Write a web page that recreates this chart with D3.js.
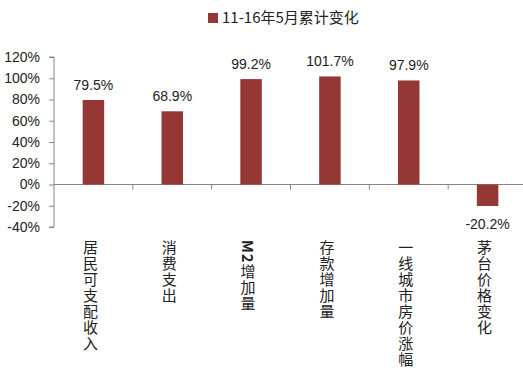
<!DOCTYPE html>
<html><head><meta charset="utf-8">
<script src="https://cdn.jsdelivr.net/npm/d3@7"></script>
<style>
body{margin:0;background:#fff;}
text{font-family:"Noto Sans CJK SC","Liberation Sans",sans-serif;}
</style></head><body>
<svg id="c" width="523" height="373"></svg>
<script>
const categories = ["居民可支配收入","消费支出","M2增加量","存款增加量","一线城市房价涨幅","茅台价格变化"];
const values = [79.5, 68.9, 99.2, 101.7, 97.9, -20.2];
const yTicks = [-40,-20,0,20,40,60,80,100,120];
const seriesName = "11-16年5月累计变化";

const svg = d3.select("#c");
const color = "#953735";
const x = d3.scaleBand().domain(categories).range([54, 527]);
const y = d3.scaleLinear().domain([-40,120]).range([227,57]);

// y axis
const yAxis = svg.append("g").attr("transform","translate(54,0)")
  .call(d3.axisLeft(y).tickValues(yTicks).tickSize(5).tickFormat(d=>d+"%"));
yAxis.select(".domain").attr("stroke","#868686").attr("d","M-5,"+y(120)+"H0V"+y(-40)+"H-5");
yAxis.selectAll(".tick line").attr("stroke","#868686");
yAxis.selectAll(".tick text").attr("font-size",14).attr("fill","#222").attr("x",-14)
  .style("font-family","'Liberation Sans',sans-serif");

// x axis at zero
const xg = svg.append("g");
xg.append("line").attr("x1",54).attr("x2",523).attr("y1",y(0)).attr("y2",y(0)).attr("stroke","#868686");
xg.selectAll("line.t").data(categories.slice(1)).enter().append("line")
  .attr("x1",d=>x(d)).attr("x2",d=>x(d)).attr("y1",y(0)).attr("y2",y(0)+5).attr("stroke","#868686");

// bars
const bw = 21.5;
svg.selectAll("rect.bar").data(values).enter().append("rect")
  .attr("x",(d,i)=>x(categories[i])+x.bandwidth()/2-bw/2)
  .attr("width",bw)
  .attr("y",d=>y(Math.max(0,d)))
  .attr("height",d=>Math.abs(y(d)-y(0)))
  .attr("fill",color);

// data labels
svg.selectAll("text.lab").data(values).enter().append("text")
  .attr("x",(d,i)=>x(categories[i])+x.bandwidth()/2)
  .attr("y",d=>d>=0? y(d)-10 : y(d)+23)
  .attr("text-anchor","middle").attr("font-size",14).attr("fill","#222")
  .style("font-family","'Liberation Sans',sans-serif")
  .text(d=>d.toFixed(1)+"%");

// category labels (vertical)
const cats = svg.selectAll("text.cat").data(categories).enter().append("text")
  .attr("x",d=>x(d)+x.bandwidth()/2-3)
  .attr("y",240)
  .attr("font-size",15).attr("fill","#222")
  .style("writing-mode","vertical-rl")
  .style("letter-spacing","1px");
cats.each(function(d){
  const t = d3.select(this);
  if (d.startsWith("M2")) {
    t.append("tspan").attr("font-weight","bold").text("M2");
    t.append("tspan").text(d.slice(2));
  } else t.text(d);
});

// legend
svg.append("rect").attr("x",208).attr("y",13).attr("width",10).attr("height",10).attr("fill",color);
svg.append("text").attr("x",222).attr("y",23).attr("font-size",15).attr("fill","#222").text(seriesName);
</script></body></html>
